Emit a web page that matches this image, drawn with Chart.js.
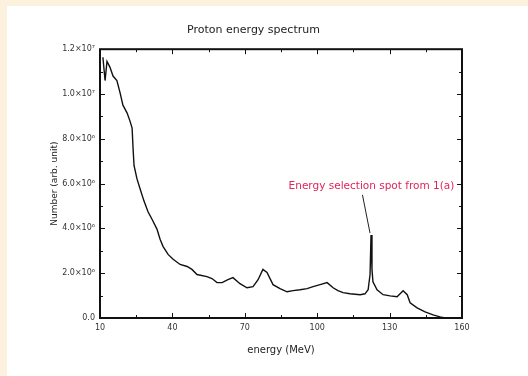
<!DOCTYPE html>
<html>
<head>
<meta charset="utf-8">
<script src="https://cdn.jsdelivr.net/npm/chart.js@4"></script>
<style>
  html, body { margin: 0; padding: 0; background: #fcf1dd; }
  #panel { position: absolute; left: 7px; top: 6px; width: 521px; height: 370px; background: #fff; }
  canvas { display: block; }
</style>
</head>
<body>
<div id="panel"><canvas id="Chart" width="521" height="370"></canvas></div>
<script>
// proton spectrum, energy in MeV, counts in units of 1e6
const energy = [11.2, 12.1, 12.9, 14.1, 15.4, 17.0, 18.3, 19.5, 21.2, 22.4, 23.3, 23.7, 24.1, 25.3, 26.6,
    28.2, 29.9, 31.5, 33.6, 34.9, 36.1, 38.2, 40.3, 43.2, 46.1, 48.1, 50.2, 54.3, 56.4, 58.5, 60.6,
    63.0, 65.1, 68.0, 70.9, 73.4, 75.5, 77.5, 79.2, 81.7, 84.6, 87.5, 90.0, 92.9, 95.8, 98.3, 101.2,
    104.1, 106.6, 108.6, 110.7, 113.6, 117.8, 119.8, 121.1, 121.9, 122.3, 122.7, 123.1, 124.8, 127.3,
    130.2, 133.1, 135.6, 137.3, 138.5, 141.4, 144.7, 148.0, 150.9, 153.0];
const counts = [11.64, 10.6, 11.45, 11.2, 10.8, 10.6, 10.06, 9.5, 9.16, 8.8, 8.48, 7.58, 6.81, 6.22, 5.77,
    5.23, 4.74, 4.42, 3.97, 3.52, 3.20, 2.84, 2.62, 2.39, 2.30, 2.17, 1.94, 1.85, 1.76, 1.58, 1.58,
    1.71, 1.80, 1.53, 1.35, 1.40, 1.71, 2.17, 2.03, 1.49, 1.31, 1.17, 1.22, 1.26, 1.31, 1.40, 1.49,
    1.58, 1.35, 1.22, 1.13, 1.08, 1.04, 1.08, 1.26, 1.94, 3.70, 2.17, 1.62, 1.26, 1.04,
    0.99, 0.95, 1.22, 1.04, 0.68, 0.45, 0.27, 0.14, 0.05, 0.0];

const xTicks = [10, 40, 70, 100, 130, 160];
const yTickLabels = ["0.0", "2.0×10⁶", "4.0×10⁶", "6.0×10⁶", "8.0×10⁶", "1.0×10⁷", "1.2×10⁷"];

const note = "Energy selection spot from 1(a)";
const notePos = { x: 120, y: 5.9 };   // where the label sits
const spikePos = { x: 122.3, y: 3.7 }; // arrow tip

const points = energy.map((e, i) => ({ x: e, y: counts[i] }));

const family = "'DejaVu Sans', sans-serif";
const tickFont = { family: family, size: 8 };

// gnuplot-like frame with inward ticks on all sides
const framePlugin = {
    id: 'frame',
    afterDraw(chart) {
        const { ctx, chartArea: a, scales } = chart;
        const xs = scales.x, ys = scales.y;
        ctx.save();
        ctx.strokeStyle = '#111';
        ctx.lineWidth = 1;
        xs.ticks.forEach((t, i) => {
            const px = Math.round(xs.getPixelForValue(t.value)) + 0.5;
            ctx.beginPath();
            ctx.moveTo(px, a.bottom); ctx.lineTo(px, a.bottom - 5);
            ctx.moveTo(px, a.top); ctx.lineTo(px, a.top + 5);
            ctx.stroke();
            if (i < xs.ticks.length - 1) {
                const mx = Math.round(xs.getPixelForValue(t.value + 15)) + 0.5;
                ctx.beginPath();
                ctx.moveTo(mx, a.bottom); ctx.lineTo(mx, a.bottom - 3);
                ctx.moveTo(mx, a.top); ctx.lineTo(mx, a.top + 3);
                ctx.stroke();
            }
        });
        ys.ticks.forEach((t, i) => {
            const py = Math.round(ys.getPixelForValue(t.value)) + 0.5;
            ctx.beginPath();
            ctx.moveTo(a.left, py); ctx.lineTo(a.left + 5, py);
            ctx.moveTo(a.right, py); ctx.lineTo(a.right - 5, py);
            ctx.stroke();
            if (i < ys.ticks.length - 1) {
                const my = Math.round(ys.getPixelForValue(t.value + 1)) + 0.5;
                ctx.beginPath();
                ctx.moveTo(a.left, my); ctx.lineTo(a.left + 3, my);
                ctx.moveTo(a.right, my); ctx.lineTo(a.right - 3, my);
                ctx.stroke();
            }
        });
        ctx.lineWidth = 2;
        ctx.strokeRect(a.left, a.top, a.right - a.left, a.bottom - a.top);

        // annotation with arrow to the selected peak
        const tx = xs.getPixelForValue(notePos.x), ty = ys.getPixelForValue(notePos.y);
        const sx = xs.getPixelForValue(spikePos.x), sy = ys.getPixelForValue(spikePos.y);
        ctx.font = "10.5px " + family;
        ctx.fillStyle = '#e0245e';
        ctx.textAlign = 'center';
        ctx.textBaseline = 'middle';
        ctx.fillText(note, tx + 6, ty);
        ctx.lineWidth = 1;
        ctx.strokeStyle = '#222';
        ctx.beginPath();
        ctx.moveTo(tx - 3, ty + 9);
        ctx.lineTo(sx - 1, sy - 2);
        ctx.stroke();
        ctx.restore();
    }
};

const config = {
    type: 'line',
    data: {
        datasets: [{
            data: points,
            borderColor: '#111',
            borderWidth: 1.4,
            pointRadius: 0,
            tension: 0,
            fill: false,
        }]
    },
    options: {
        responsive: false,
        animation: false,
        layout: { padding: { left: 38, right: 66, top: 0, bottom: 16 } },
        plugins: {
            legend: { display: false },
            tooltip: { enabled: false },
            title: {
                display: true,
                text: 'Proton energy spectrum',
                color: '#222',
                font: { family: family, size: 11, weight: 'normal' },
                padding: { top: 18, bottom: 12 }
            }
        },
        scales: {
            x: {
                type: 'linear',
                min: 10, max: 160,
                afterBuildTicks: s => { s.ticks = xTicks.map(v => ({ value: v })); },
                afterFit: s => { s.height = 42; },
                grid: { display: false, drawTicks: false },
                border: { display: false },
                ticks: { color: '#333', font: tickFont, padding: 5, maxRotation: 0 },
                title: { display: true, text: 'energy (MeV)', color: '#222', font: { family: family, size: 10 }, padding: { top: 6 } }
            },
            y: {
                min: 0, max: 12,
                ticks: {
                    stepSize: 2, color: '#333', font: tickFont, padding: 5,
                    callback: (v, i) => yTickLabels[i]
                },
                afterFit: s => { s.width = 55; },
                grid: { display: false, drawTicks: false },
                border: { display: false },
                title: { display: true, text: 'Number (arb. unit)', color: '#222', font: { family: family, size: 9 }, padding: { bottom: 2 } }
            }
        }
    },
    plugins: [framePlugin]
};

const myChart = new Chart(document.getElementById("Chart"), config);
</script>
</body>
</html>
